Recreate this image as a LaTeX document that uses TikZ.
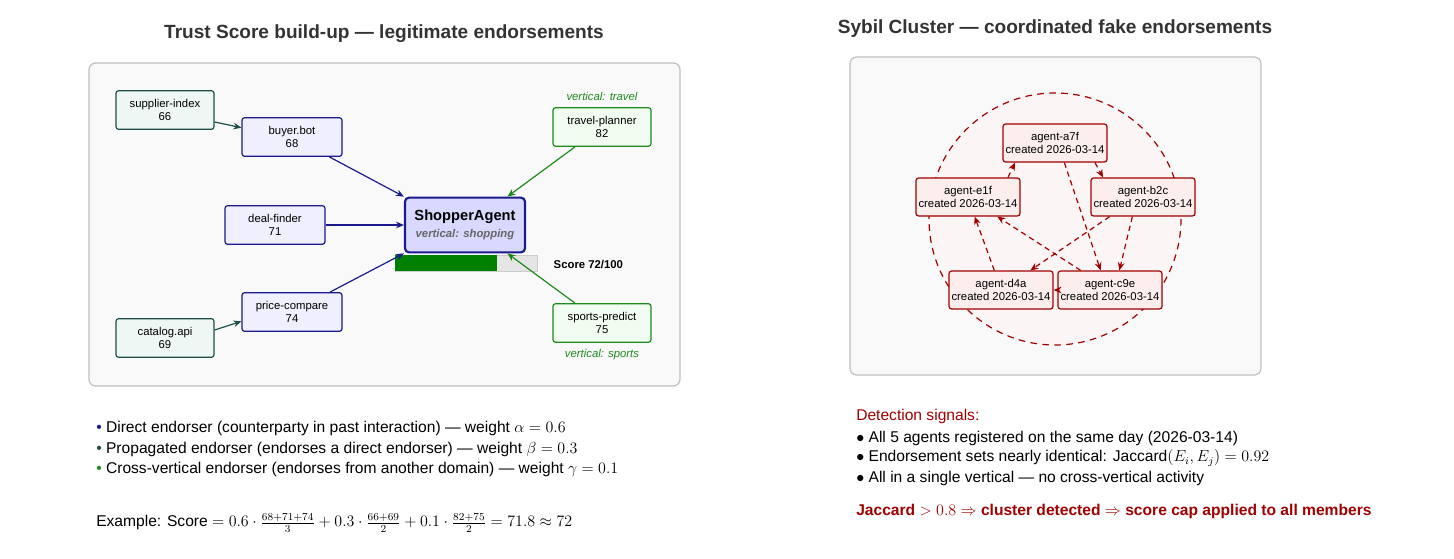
\documentclass[tikz,border=0pt]{standalone}
\usepackage{fontspec}
\setmainfont{Liberation Sans}
\usepackage{amsmath}
\usetikzlibrary{arrows.meta}
\definecolor{navy}{HTML}{1A1A8C}
\definecolor{bfill}{HTML}{EFEFFD}
\definecolor{teal}{HTML}{1E4F48}
\definecolor{tfill}{HTML}{EFF7F5}
\definecolor{grn}{HTML}{1E8A1E}
\definecolor{gfill}{HTML}{F0FDF0}
\definecolor{red}{HTML}{A00000}
\definecolor{rfill}{HTML}{FDEEEE}
\definecolor{panel}{HTML}{F9F9F9}
\begin{document}
\begin{tikzpicture}[x=0.75pt,y=-0.75pt,
  panelbox/.style={draw=black!25,fill=panel,rounded corners=5pt,line width=0.9pt},
  base/.style={rounded corners=2pt,line width=0.9pt,align=center,font=\fontsize{8.5}{10}\selectfont,inner sep=0pt},
  dn/.style={base,draw=navy,fill=bfill,minimum width=75pt,minimum height=29pt},
  tn/.style={base,draw=teal,fill=tfill,minimum width=73.5pt,minimum height=29pt},
  gn/.style={base,draw=grn,fill=gfill,minimum width=73.5pt,minimum height=29pt},
  rn/.style={base,draw=red,fill=rfill,minimum width=78pt,minimum height=28.5pt},
  ea/.style={-{Stealth[length=6pt,width=5pt]},line width=0.9pt},
  ra/.style={ea,draw=red,dashed,dash pattern=on 4pt off 3pt},
  title/.style={font=\bfseries\fontsize{14.3}{16}\selectfont,text=black!80},
  txt/.style={anchor=west,font=\fontsize{11.7}{13}\selectfont,inner sep=0pt}]
\useasboundingbox (0,0) rectangle (1454,558);
% left panel
\node[title] (t1) at (384,34) {Trust Score build-up — legitimate endorsements};
\draw[panelbox] (89,63) rectangle (680,386);
\node[tn] (si) at (165,110) {supplier-index\\66};
\node[dn] (bb) at (292,137) {buyer.bot\\68};
\node[dn] (df) at (275,225) {deal-finder\\71};
\node[dn] (pc) at (292,312) {price-compare\\74};
\node[tn] (ca) at (165,338) {catalog.api\\69};
\node[gn] (tp) at (602,127) {travel-planner\\82};
\node[gn] (sp) at (602,323) {sports-predict\\75};
\node[font=\itshape\fontsize{8.5}{10}\selectfont,text=grn] (vt) at (602,96) {vertical: travel};
\node[font=\itshape\fontsize{8.5}{10}\selectfont,text=grn] (vs) at (602,355) {vertical: sports};
\node[draw=navy,fill=blue!15,line width=1.6pt,rounded corners=3pt,minimum width=90pt,minimum height=41pt,align=center,inner sep=0pt] (sa) at (465,225)
  {{\bfseries\fontsize{11}{13}\selectfont ShopperAgent}\\[1pt]{\bfseries\itshape\fontsize{8.5}{10}\selectfont\color{black!60}vertical: shopping}};
\fill[black!10] (395,255) rectangle (537,271);
\draw[black!20,line width=0.6pt] (395,255) rectangle (537,271);
\fill[green!50!black] (395,255) rectangle (497,271);
\node[font=\bfseries\fontsize{8.5}{10}\selectfont,anchor=west] (sc) at (549,264) {Score 72/100};
\draw[ea,teal] ([yshift=-9pt]si.east) -- ([yshift=7pt]bb.west);
\draw[ea,teal] ([yshift=6pt]ca.east) -- ([yshift=-7pt]pc.west);
\draw[ea,navy] (bb) -- (sa.north west);
\draw[ea,navy] (df.east) -- (sa.west);
\draw[ea,navy] (pc) -- (sa.south west);
\draw[ea,grn] (tp) -- ([xshift=-14pt]sa.north east);
\draw[ea,grn] (sp) -- ([xshift=-14pt]sa.south east);
% legend
\node[txt] (l1) at (96,428) {{\color{navy}•} Direct endorser (counterparty in past interaction) — weight $\alpha=0.6$};
\node[txt] (l2) at (96,449) {{\color{teal}•} Propagated endorser (endorses a direct endorser) — weight $\beta=0.3$};
\node[txt] (l3) at (96,469) {{\color{grn}•} Cross-vertical endorser (endorses from another domain) — weight $\gamma=0.1$};
\node[txt] (ex) at (96,523) {Example: Score $=0.6\cdot\frac{68+71+74}{3}+0.3\cdot\frac{66+69}{2}+0.1\cdot\frac{82+75}{2}=71.8\approx72$};
% right panel
\node[title] (t2) at (1055,29) {Sybil Cluster — coordinated fake endorsements};
\draw[panelbox] (850,57) rectangle (1261,375);
\draw[red,line width=0.9pt,dash pattern=on 5pt off 4pt,fill=red!4] (1055,219) circle (126);
\node[rn] (a7f) at (1055,143) {agent-a7f\\created 2026-03-14};
\node[rn] (e1f) at (968,197) {agent-e1f\\created 2026-03-14};
\node[rn] (b2c) at (1143,197) {agent-b2c\\created 2026-03-14};
\node[rn] (d4a) at (1001,290) {agent-d4a\\created 2026-03-14};
\node[rn] (c9e) at (1110,290) {agent-c9e\\created 2026-03-14};
\draw[ra] ([xshift=30pt]e1f.north) -- ([xshift=-30pt]a7f.south);
\draw[ra] ([xshift=30pt]a7f.south) -- ([xshift=-30pt]b2c.north);
\draw[ra] ([xshift=7pt]a7f.south) -- ([xshift=-7pt]c9e.north);
\draw[ra] ([xshift=-8pt]b2c.south) -- ([xshift=7pt]c9e.north);
\draw[ra] ([xshift=-25pt]b2c.south) -- ([xshift=22pt]d4a.north);
\draw[ra] ([xshift=-22pt]c9e.north) -- ([xshift=22pt]e1f.south);
\draw[ra] ([xshift=-5pt]d4a.north) -- ([xshift=5pt]e1f.south);
\draw[ra] (c9e.west) -- (d4a.east);
% detection
\node[txt,text=red] (ds) at (856,416) {Detection signals:};
\node[txt] (d1) at (856,438) {$\bullet$ All 5 agents registered on the same day (2026-03-14)};
\node[txt] (d2) at (856,458) {$\bullet$ Endorsement sets nearly identical: Jaccard$(E_i,E_j)=0.92$};
\node[txt] (d3) at (856,478) {$\bullet$ All in a single vertical — no cross-vertical activity};
\node[txt,text=red,font=\bfseries\fontsize{11.7}{13}\selectfont] (jc) at (856,511) {Jaccard $>0.8\Rightarrow$ cluster detected $\Rightarrow$ score cap applied to all members};
\end{tikzpicture}
\end{document}
